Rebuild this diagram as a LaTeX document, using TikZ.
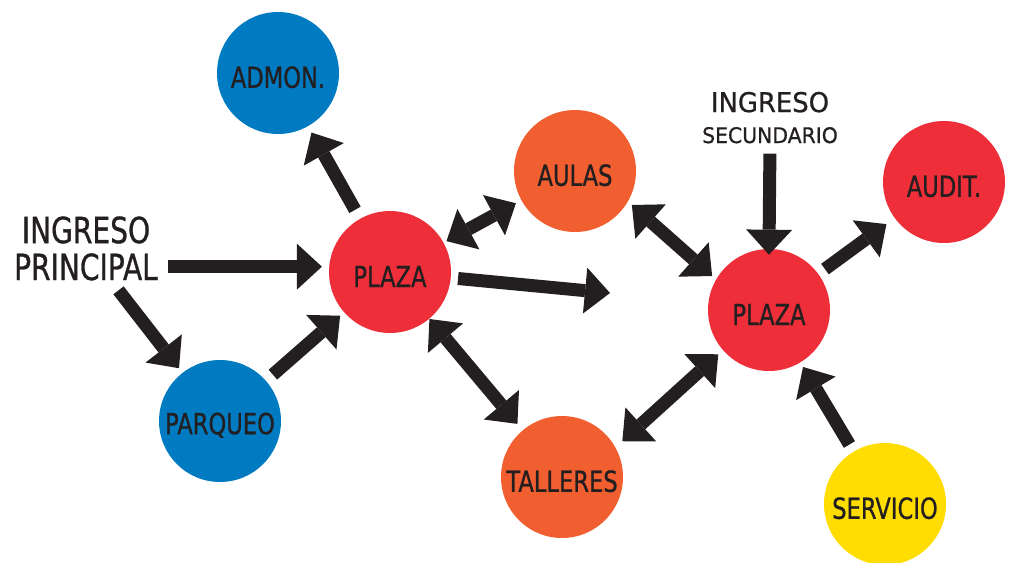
\documentclass[tikz,border=0pt]{standalone}
\usepackage{fontspec}
\setmainfont{DejaVu Sans}[FakeStretch=0.78, FakeBold=0.8]
\newfontfamily\widefont{DejaVu Sans}[FakeStretch=0.95, FakeBold=0.8]
\usepackage{xcolor}
\usetikzlibrary{arrows.meta}

\definecolor{zoneblue}{RGB}{0,122,193}
\definecolor{zonered}{RGB}{238,46,56}
\definecolor{zoneorange}{RGB}{241,94,47}
\definecolor{zoneyellow}{RGB}{255,221,0}
\definecolor{inkblack}{RGB}{35,31,32}

\begin{document}
\begin{tikzpicture}[x=0.02cm, y=-0.02cm,
    zone/.style={circle, minimum size=2.44cm, inner sep=0pt, text=inkblack, text height=0.6cm, font=\fontsize{16.5}{18}\selectfont},
    entry/.style={anchor=base, align=center, inner sep=0pt, text=inkblack},
    flow/.style={line width=0.26cm, draw=inkblack, -{Triangle[length=0.5cm, width=0.92cm, line width=0pt]}},
    twoway/.style={flow, {Triangle[length=0.5cm, width=0.92cm, line width=0pt]}-{Triangle[length=0.5cm, width=0.92cm, line width=0pt]}}]
    \useasboundingbox (0,0) rectangle (1010,562);

    \node[zone, fill=zoneblue] (admon) at (278,73) {ADMON.};
    \node[zone, fill=zonered] (plazaA) at (390,272) {PLAZA};
    \node[zone, fill=zoneblue] (parqueo) at (220,421) {PARQUEO};
    \node[zone, fill=zoneorange] (aulas) at (575,171) {AULAS};
    \node[zone, fill=zoneorange] (talleres) at (562,477) {TALLERES};
    \node[zone, fill=zonered] (plazaB) at (769,310) {PLAZA};
    \node[zone, fill=zonered] (audit) at (944,182) {AUDIT.};
    \node[zone, fill=zoneyellow] (servicio) at (885,504) {SERVICIO};

    \node[entry, font=\fontsize{20.5}{21}\selectfont] (ingP) at (86,280) {INGRESO\\PRINCIPAL};
    \node[entry, font=\widefont\fontsize{15.5}{17.6}\selectfont] (ingS) at (770,143) {INGRESO\\{\fontsize{12.2}{17.6}\selectfont SECUNDARIO}};
    \coordinate (onward) at (610,293);

    \draw[flow, shorten <=0.2cm, shorten >=0.14cm] (ingP.east |- plazaA.175) -- (plazaA.175);
    \draw[flow, shorten <=0.24cm, shorten >=0.11cm] (ingP) -- (parqueo);
    \draw[flow, shorten <=0.18cm, shorten >=0.1cm] (parqueo) -- (plazaA);
    \draw[flow, shorten <=0.2cm, shorten >=0.14cm] (plazaA) -- (admon);
    \draw[twoway, shorten <=0.06cm, shorten >=0.12cm] (plazaA) -- (aulas);
    \draw[flow, shorten <=0.14cm] (plazaA) -- (onward);
    \draw[twoway, shorten >=0.16cm] (plazaA) -- (talleres);
    \draw[twoway, shorten <=0.1cm, shorten >=0.1cm] (aulas.-30) -- (plazaB.150);
    \draw[flow, shorten <=0.2cm, shorten >=-0.12cm] (ingS.south) -- (plazaB.north);
    \draw[flow, shorten <=0.16cm, shorten >=0.2cm] (plazaB) -- (audit);
    \draw[twoway, shorten <=0.18cm, shorten >=0.12cm] (talleres.29) -- (plazaB.221);
    \draw[flow, shorten <=0.16cm, shorten >=0.1cm] (servicio) -- (plazaB);
\end{tikzpicture}
\end{document}
